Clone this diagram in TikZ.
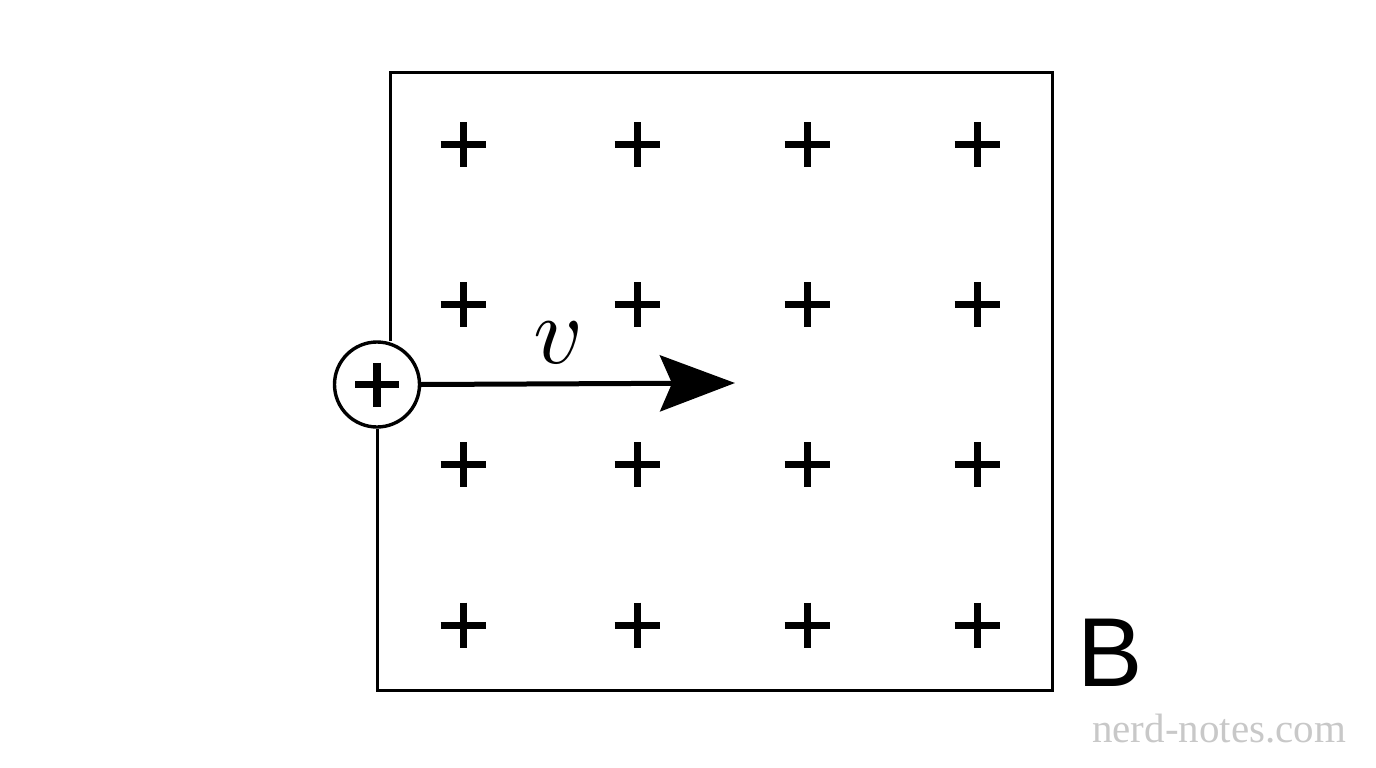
\documentclass[tikz,border=0pt]{standalone}
\usepackage{fontspec}
\newfontfamily\bfont{Liberation Sans}
\newfontfamily\wmfont{Liberation Serif}
\usetikzlibrary{arrows.meta}
\definecolor{wmgray}{RGB}{200,200,200}
\tikzset{
  frame/.style={line width=3pt, line join=miter},
  plusbar/.style={line width=7pt},
  charge/.style={circle, draw, line width=3.4pt, minimum size=85pt, inner sep=0pt, fill=white},
  vel/.style={line width=5pt, -{Stealth[length=75pt, width=56pt, inset=12pt]}},
}
\begin{document}
\begin{tikzpicture}[x=1pt, y=-1pt]
\useasboundingbox (0,0) rectangle (1376,768);
% charge
\node[charge] (q) at (377,384.5) {};
\draw[plusbar, line width=7.5pt] (355,384.5) -- (399,384.5) (377,362.5) -- (377,406.5);
% frame
\coordinate (tl) at (390,73);
\coordinate (tr) at (1052,73);
\coordinate (br) at (1052,690);
\coordinate (bl) at (377,690);
\draw[frame] (q.north) ++(13,1) -- (tl) -- (tr) -- (br) -- (bl) -- (q.south);
% field pluses
\foreach \x in {463,637,807,977}{
  \foreach \y in {144.5,304.5,464.5,625}{
    \draw[plusbar] (\x-22.5,\y) -- (\x+22.5,\y) (\x,\y-22.5) -- (\x,\y+22.5);
  }
}
% velocity
\coordinate (tip) at (735,383);
\draw[vel] (q.east) -- (tip);
\node (v) at (558,343) {\scalebox{9.6}{$v$}};
\node (B) at (1110,653) {\bfont\fontsize{98}{98}\selectfont B};
\node[anchor=base west, inner sep=0pt, text=wmgray] (wm) at (1092,742) {\wmfont\fontsize{41}{41}\selectfont nerd-notes.com};
\end{tikzpicture}
\end{document}
